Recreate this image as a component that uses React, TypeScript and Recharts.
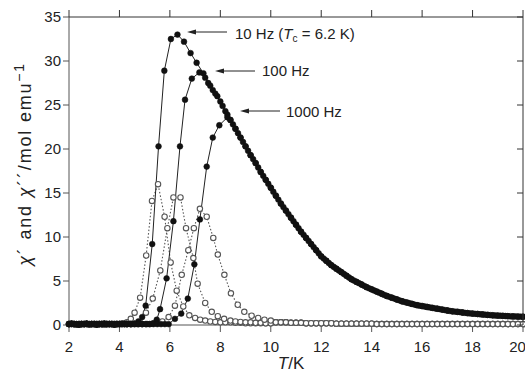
import { LineChart, Line, XAxis, YAxis, Label } from "recharts";

// temperatures (K) and susceptibilities (mol emu^-1)
const lowT = [2.0, 2.1, 2.2, 2.3, 2.4, 2.5, 2.6, 2.7, 2.8, 2.9, 3.0, 3.1, 3.2, 3.3, 3.4, 3.5, 3.6, 3.7, 3.8, 3.9, 4.0, 4.1, 4.2];
const lowReal = [0.1, 0.15, 0.1, 0.1, 0.05, 0.1, 0.1, 0.15, 0.1, 0.1, 0.1, 0.05, 0.1, 0.1, 0.15, 0.1, 0.1, 0.1, 0.05, 0.1, 0.1, 0.1, 0.1];
const lowImag = [0.1, 0.1, 0.1, 0.05, 0.1, 0.1, 0.1, 0.1, 0.05, 0.1, 0.1, 0.1, 0.1, 0.1, 0.05, 0.1, 0.1, 0.1, 0.1, 0.1, 0.1, 0.15, 0.2];

const real10T = [4.3, 4.45, 4.6, 4.75, 4.9, 5.04, 5.3, 5.55, 5.78, 6.04, 6.3, 6.56, 6.82, 7.06, 7.33, 7.52, 7.7, 7.88, 8.09, 8.28];
const real10 = [0.1, 0.1, 0.15, 0.4, 0.9, 2.2, 9.2, 20.3, 28.9, 32.5, 33.0, 32.2, 30.9, 29.8, 28.6, 27.5, 26.7, 26.0, 24.9, 23.9];

const real100T = [4.3, 4.45, 4.6, 4.75, 4.9, 5.05, 5.2, 5.35, 5.48, 5.61, 5.87, 6.14, 6.4, 6.6, 6.87, 7.17, 7.4, 7.6, 7.8, 8.0, 8.2];
const real100 = [0.1, 0.1, 0.1, 0.1, 0.1, 0.1, 0.1, 0.2, 0.6, 1.8, 5.3, 11.8, 20.3, 25.6, 28.0, 28.7, 28.1, 27.2, 26.3, 25.4, 24.3];

const real1000T = [4.3, 4.45, 4.6, 4.75, 4.9, 5.05, 5.2, 5.35, 5.5, 5.65, 5.8, 5.95, 6.2, 6.45, 6.71, 6.97, 7.19, 7.46, 7.7, 7.96, 8.28];
const real1000 = [0.1, 0.1, 0.1, 0.1, 0.1, 0.1, 0.1, 0.1, 0.1, 0.1, 0.1, 0.1, 0.7, 1.3, 3.0, 6.9, 12.0, 18.0, 21.3, 22.7, 23.6];

// common paramagnetic tail, read at even and odd tenths of a kelvin
const tailT = [8.4, 8.6, 8.8, 9.0, 9.2, 9.4, 9.6, 9.8, 10.0, 10.2, 10.4, 10.6, 10.8, 11.0, 11.2, 11.4, 11.6, 11.8, 12.0,
  12.2, 12.4, 12.6, 12.8, 13.0, 13.2, 13.4, 13.6, 13.8, 14.0, 14.2, 14.4, 14.6, 14.8, 15.0, 15.2, 15.4, 15.6, 15.8, 16.0,
  16.2, 16.4, 16.6, 16.8, 17.0, 17.2, 17.4, 17.6, 17.8, 18.0, 18.2, 18.4, 18.6, 18.8, 19.0, 19.2, 19.4, 19.6, 19.8, 20.0];
const tailReal = [23.3, 22.3, 21.3, 20.3, 19.3, 18.4, 17.4, 16.5, 15.6, 14.7, 13.8, 13.0, 12.2, 11.4, 10.6, 9.9, 9.2, 8.5, 7.8,
  7.3, 6.8, 6.4, 6.0, 5.6, 5.2, 4.9, 4.6, 4.3, 4.05, 3.8, 3.55, 3.3, 3.1, 2.9, 2.7, 2.55, 2.4, 2.25, 2.15,
  2.05, 1.95, 1.85, 1.75, 1.65, 1.55, 1.5, 1.42, 1.35, 1.3, 1.25, 1.2, 1.15, 1.1, 1.07, 1.04, 1.0, 0.98, 0.96, 0.94];
const tailOddT = [8.5, 8.7, 8.9, 9.1, 9.3, 9.5, 9.7, 9.9, 10.1, 10.3, 10.5, 10.7, 10.9, 11.1, 11.3, 11.5, 11.7, 11.9,
  12.1, 12.3, 12.5, 12.7, 12.9, 13.1, 13.3, 13.5, 13.7, 13.9, 14.1, 14.3, 14.5, 14.7, 14.9, 15.1, 15.3, 15.5, 15.7, 15.9,
  16.1, 16.3, 16.5, 16.7, 16.9, 17.1, 17.3, 17.5, 17.7, 17.9, 18.1, 18.3, 18.5, 18.7, 18.9, 19.1, 19.3, 19.5, 19.7, 19.9];
const tailOddReal = [22.8, 21.8, 20.8, 19.8, 18.85, 17.9, 16.95, 16.05, 15.15, 14.25, 13.4, 12.6, 11.8, 11.0, 10.25, 9.55, 8.85, 8.15,
  7.55, 7.05, 6.6, 6.2, 5.8, 5.4, 5.05, 4.75, 4.45, 4.17, 3.92, 3.67, 3.42, 3.2, 3.0, 2.8, 2.62, 2.47, 2.32, 2.2,
  2.1, 2.0, 1.9, 1.8, 1.7, 1.6, 1.52, 1.46, 1.38, 1.32, 1.27, 1.22, 1.17, 1.12, 1.08, 1.05, 1.02, 0.99, 0.97, 0.95];

const imag10T = [4.3, 4.45, 4.6, 4.82, 5.06, 5.29, 5.53, 5.79, 6.03, 6.27, 6.53, 6.77, 7.0, 7.2, 7.4, 7.6, 7.8, 8.0, 8.2, 8.4, 8.6, 8.8, 9.0, 9.2, 9.4, 9.6, 9.8, 10.0];
const imag10 = [0.3, 0.7, 1.4, 3.1, 7.9, 14.1, 16.0, 12.3, 7.1, 3.9, 2.1, 1.1, 0.8, 0.6, 0.5, 0.4, 0.35, 0.3, 0.3, 0.3, 0.25, 0.25, 0.2, 0.2, 0.2, 0.2, 0.2, 0.2];

const imag100T = [4.3, 4.45, 4.6, 4.8, 5.05, 5.32, 5.62, 5.9, 6.14, 6.42, 6.64, 6.93, 7.1, 7.4, 7.66, 7.9, 8.15, 8.4, 8.6, 8.8, 9.0, 9.2, 9.4, 9.6, 9.8, 10.0];
const imag100 = [0.1, 0.1, 0.15, 0.3, 1.4, 3.0, 6.2, 11.0, 14.5, 14.5, 11.0, 7.6, 4.7, 2.5, 1.5, 1.0, 0.7, 0.5, 0.4, 0.35, 0.3, 0.3, 0.25, 0.25, 0.2, 0.2];

const imag1000T = [4.3, 4.5, 4.7, 4.9, 5.1, 5.3, 5.5, 5.7, 5.95, 6.2, 6.47, 6.73, 6.95, 7.19, 7.46, 7.72, 7.9, 8.16, 8.42, 8.69, 8.95, 9.24, 9.5, 9.75, 10.0];
const imag1000 = [0.1, 0.1, 0.1, 0.1, 0.1, 0.15, 0.2, 0.4, 0.9, 2.2, 5.7, 8.5, 11.0, 13.2, 12.3, 9.9, 8.0, 5.7, 3.6, 2.3, 1.5, 1.05, 0.8, 0.6, 0.5];

const tailImagT = [10.2, 10.4, 10.6, 10.8, 11.0, 11.2, 11.4, 11.6, 11.8, 12.0, 12.2, 12.4, 12.6, 12.8, 13.0, 13.2, 13.4, 13.6, 13.8, 14.0,
  14.2, 14.4, 14.6, 14.8, 15.0, 15.2, 15.4, 15.6, 15.8, 16.0, 16.2, 16.4, 16.6, 16.8, 17.0, 17.2, 17.4, 17.6, 17.8, 18.0,
  18.2, 18.4, 18.6, 18.8, 19.0, 19.2, 19.4, 19.6, 19.8, 20.0];
const tailImag = [0.3, 0.3, 0.3, 0.25, 0.25, 0.25, 0.2, 0.2, 0.2, 0.2, 0.2, 0.2, 0.15, 0.15, 0.15, 0.15, 0.15, 0.15, 0.15, 0.15,
  0.1, 0.1, 0.1, 0.1, 0.1, 0.1, 0.1, 0.1, 0.1, 0.1, 0.1, 0.1, 0.1, 0.1, 0.1, 0.1, 0.1, 0.1, 0.1, 0.1,
  0.1, 0.1, 0.1, 0.1, 0.1, 0.1, 0.1, 0.1, 0.1, 0.1];

const xTicks = [2, 4, 6, 8, 10, 12, 14, 16, 18, 20];
const yTicks = [0, 5, 10, 15, 20, 25, 30, 35];
const X_DOMAIN = [2, 20];
const Y_DOMAIN = [0, 35];

// plot box in page pixels (follows from the chart margins and axis sizes below)
const BOX = { left: 69, right: 523, top: 17, bottom: 325 };

const FONT = "'Liberation Sans', Arial, sans-serif";
const INK = "#222";

const toPoints = (ts: number[], vs: number[]) => ts.map((t, i) => ({ t, v: vs[i] }));

const realSeries = [
  { id: "r10", data: toPoints([...lowT, ...real10T, ...tailT], [...lowReal, ...real10, ...tailReal]) },
  { id: "r100", data: toPoints([...lowT, ...real100T, ...tailOddT], [...lowReal, ...real100, ...tailOddReal]) },
  { id: "r1000", data: toPoints([...lowT, ...real1000T, ...tailT], [...lowReal, ...real1000, ...tailReal]) },
];
const imagSeries = [
  { id: "i10", data: toPoints([...lowT, ...imag10T, ...tailImagT], [...lowImag, ...imag10, ...tailImag]) },
  { id: "i100", data: toPoints([...lowT, ...imag100T, ...tailImagT], [...lowImag, ...imag100, ...tailImag]) },
  { id: "i1000", data: toPoints([...lowT, ...imag1000T, ...tailImagT], [...lowImag, ...imag1000, ...tailImag]) },
];

function Arrow({ x1, x2, y }: { x1: number; x2: number; y: number }) {
  return (
    <g>
      <line x1={x1} y1={y} x2={x2 + 6} y2={y} stroke={INK} strokeWidth={1} />
      <polygon points={`${x2},${y} ${x2 + 9},${y - 2.5} ${x2 + 9},${y + 2.5}`} fill={INK} />
    </g>
  );
}

// top and right edges of the box with their ticks
function Frame() {
  const sx = (t: number) => BOX.left + ((t - X_DOMAIN[0]) / (X_DOMAIN[1] - X_DOMAIN[0])) * (BOX.right - BOX.left);
  const sy = (v: number) => BOX.bottom - ((v - Y_DOMAIN[0]) / (Y_DOMAIN[1] - Y_DOMAIN[0])) * (BOX.bottom - BOX.top);
  return (
    <g stroke="#333" strokeWidth={1}>
      <line x1={BOX.left} y1={BOX.top} x2={BOX.right} y2={BOX.top} />
      <line x1={BOX.right} y1={BOX.top} x2={BOX.right} y2={BOX.bottom} />
      {xTicks.map((t) => (
        <line key={`tx${t}`} x1={sx(t)} y1={BOX.top} x2={sx(t)} y2={BOX.top - 7} />
      ))}
      {yTicks.map((v) => (
        <line key={`ry${v}`} x1={BOX.right} y1={sy(v)} x2={BOX.right - 6} y2={sy(v)} />
      ))}
    </g>
  );
}

export default function App() {
  return (
    <div style={{ position: "absolute", left: 0, top: 0, width: 525, height: 374, background: "#fff" }}>
      <LineChart width={525} height={374} margin={{ top: 17, right: 2, left: 9, bottom: 19 }}>
        <XAxis
          type="number"
          dataKey="t"
          domain={X_DOMAIN}
          ticks={xTicks}
          height={30}
          tickSize={7}
          tickMargin={9}
          stroke="#555"
          tick={{ fill: INK, fontSize: 15, fontFamily: FONT }}
        >
          <Label
            content={() => (
              <text x={291} y={369} fontFamily={FONT} fontSize={17} fill={INK} textAnchor="middle">
                <tspan fontStyle="italic">T</tspan>/K
              </text>
            )}
          />
        </XAxis>
        <YAxis
          type="number"
          domain={Y_DOMAIN}
          ticks={yTicks}
          width={60}
          tickSize={6}
          tickMargin={2}
          stroke="#555"
          tick={{ fill: INK, fontSize: 15, fontFamily: FONT }}
        >
          <Label
            content={() => (
              <text
                x={0}
                y={0}
                transform="translate(31,164) rotate(-90)"
                fontFamily={FONT}
                fontSize={18}
                letterSpacing={1.8}
                fill={INK}
                textAnchor="middle"
              >
                <tspan fontStyle="italic">χ</tspan>´ and <tspan fontStyle="italic">χ</tspan>´´/mol emu
                <tspan fontSize={14} dy={-7}>−1</tspan>
              </text>
            )}
          />
        </YAxis>
        {imagSeries.map((s) => (
          <Line
            key={s.id}
            data={s.data}
            dataKey="v"
            type="linear"
            stroke="#555"
            strokeWidth={1.1}
            strokeDasharray="1.5 2"
            dot={{ r: 2.7, fill: "#fff", stroke: "#555", strokeWidth: 1.1, strokeDasharray: "none" }}
            activeDot={false}
            isAnimationActive={false}
          />
        ))}
        {realSeries.map((s) => (
          <Line
            key={s.id}
            data={s.data}
            dataKey="v"
            type="linear"
            stroke={INK}
            strokeWidth={1}
            dot={{ r: 2.9, fill: "#111", stroke: "#111", strokeWidth: 0.5 }}
            activeDot={false}
            isAnimationActive={false}
          />
        ))}
      </LineChart>
      <svg width={525} height={374} style={{ position: "absolute", left: 0, top: 0, pointerEvents: "none" }}>
        <Frame />
        <Arrow x1={227} x2={187} y={32} />
        <text x={235} y={38.5} fontFamily={FONT} fontSize={15} fill={INK}>
          10 Hz (<tspan fontStyle="italic">T</tspan>
          <tspan fontSize={10} dy={3}>c</tspan>
          <tspan dy={-3}> = 6.2 K)</tspan>
        </text>
        <Arrow x1={255} x2={215} y={71} />
        <text x={262} y={76} fontFamily={FONT} fontSize={15} fill={INK}>100 Hz</text>
        <Arrow x1={280} x2={240} y={111} />
        <text x={286} y={117} fontFamily={FONT} fontSize={15} fill={INK}>1000 Hz</text>
      </svg>
    </div>
  );
}
